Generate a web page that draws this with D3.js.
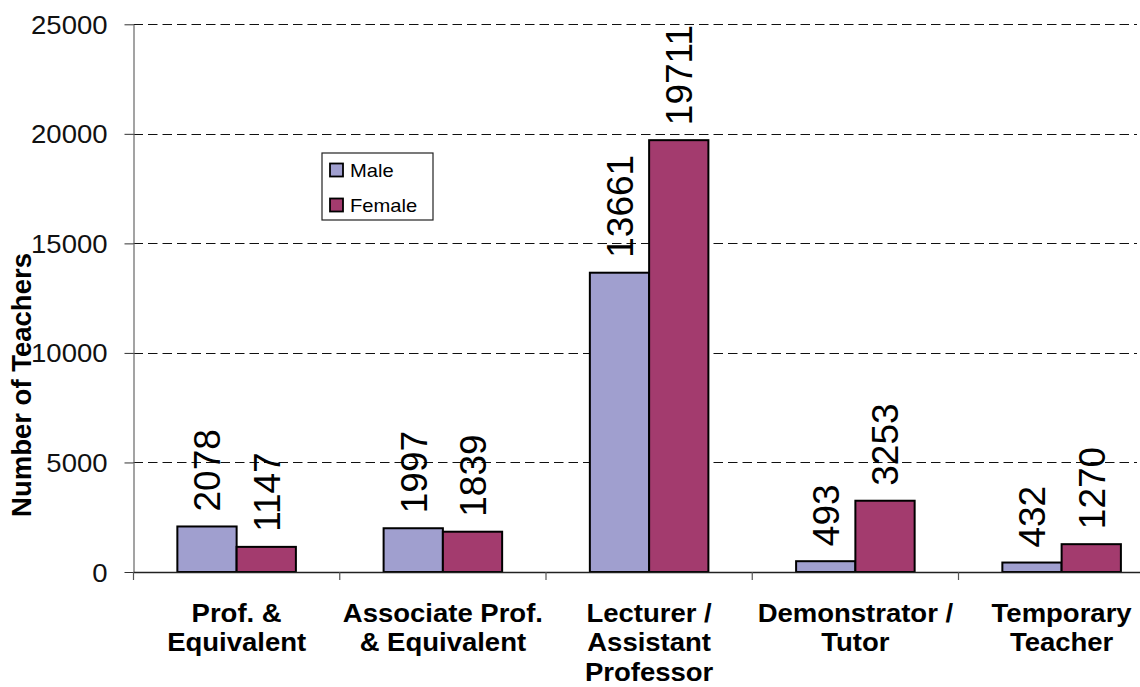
<!DOCTYPE html>
<html>
<head>
<meta charset="utf-8">
<script src="https://cdn.jsdelivr.net/npm/d3@7"></script>
<style>
  html, body { margin: 0; padding: 0; background: #fff; }
  svg { display: block; font-family: "Liberation Sans", Arial, sans-serif; }
</style>
</head>
<body>
<svg id="chart" width="1140" height="687"></svg>
<script>
const categories = ["Prof. &\nEquivalent", "Associate Prof.\n& Equivalent", "Lecturer /\nAssistant\nProfessor", "Demonstrator /\nTutor", "Temporary\nTeacher"];
const seriesNames = ["Male", "Female"];
const maleValues = [2078, 1997, 13661, 493, 432];
const femaleValues = [1147, 1839, 19711, 3253, 1270];
const yTickValues = [0, 5000, 10000, 15000, 20000, 25000];
const yTitle = "Number of Teachers";
const colors = { Male: "#a09fcf", Female: "#a33b6e" };

const svg = d3.select("#chart");
const plotLeft = 133.5, plotBottom = 572, plotTop = 24.3, bandStep = 206.25, gridRight = 1137;
const SX = 1.1;

const x0 = d3.scaleBand().domain(categories).range([plotLeft, plotLeft + bandStep * categories.length]).paddingInner(0).paddingOuter(0);
const x1 = d3.scaleBand().domain(seriesNames).range([0, x0.bandwidth()]).paddingInner(0).paddingOuter(0.74);
const y = d3.scaleLinear().domain([0, 25000]).range([plotBottom, plotTop]);

const data = categories.map((c, i) => ({ cat: c, values: [{ s: "Male", v: maleValues[i] }, { s: "Female", v: femaleValues[i] }] }));

// gridlines
svg.append("g").selectAll("line").data(yTickValues.filter(t => t > 0)).join("line")
  .attr("x1", plotLeft).attr("x2", gridRight)
  .attr("y1", d => Math.round(y(d)) + 0.5).attr("y2", d => Math.round(y(d)) + 0.5)
  .attr("stroke", "#111").attr("stroke-width", 1).attr("stroke-dasharray", "9.5,5");

// y axis
const yAxis = svg.append("g").attr("transform", `translate(${plotLeft},0)`)
  .call(d3.axisLeft(y).tickValues(yTickValues).tickSize(9).tickPadding(17).tickSizeOuter(0).tickFormat(d3.format("d")));
yAxis.select(".domain").attr("stroke", "#666").attr("stroke-width", 1.2);
yAxis.selectAll(".tick line").attr("stroke", "#333");
yAxis.selectAll(".tick text")
  .attr("font-size", 25).attr("fill", "#111").attr("font-family", "'Liberation Sans', Arial, sans-serif")
  .attr("dy", "0.36em")
  .attr("transform", function () { const ax = +d3.select(this).attr("x"); return `translate(${ax},0) scale(${SX},1) translate(${-ax},0)`; });

// bars
const groups = svg.append("g").selectAll("g").data(data).join("g")
  .attr("transform", d => `translate(${x0(d.cat)},0)`);
groups.selectAll("rect").data(d => d.values).join("rect")
  .attr("x", d => x1(d.s)).attr("width", x1.bandwidth())
  .attr("y", d => y(d.v)).attr("height", d => y(0) - y(d.v))
  .attr("fill", d => colors[d.s]).attr("stroke", "#000").attr("stroke-width", 2);

// value labels
groups.selectAll("g.lbl").data(d => d.values).join("g").attr("class", "lbl")
  .attr("transform", d => `translate(${x1(d.s) + x1.bandwidth() / 2},${y(d.v) - 15}) rotate(-90)`)
  .append("text")
  .attr("font-size", 37).attr("fill", "#000").attr("dy", "0.36em").attr("text-anchor", "start")
  .text(d => d.v);

// x axis line and ticks at band boundaries
svg.append("line").attr("x1", plotLeft).attr("x2", 1140).attr("y1", plotBottom + 0.5).attr("y2", plotBottom + 0.5)
  .attr("stroke", "#222").attr("stroke-width", 1.3);
const boundaries = categories.map(c => x0(c));
svg.append("g").selectAll("line").data(boundaries).join("line")
  .attr("x1", d => d).attr("x2", d => d).attr("y1", plotBottom).attr("y2", plotBottom + 8)
  .attr("stroke", "#555").attr("stroke-width", 1.2);

// category labels
const catG = svg.append("g").selectAll("g").data(categories).join("g")
  .attr("transform", d => `translate(${x0(d) + x0.bandwidth() / 2},0) scale(${SX},1)`);
catG.selectAll("text").data(d => d.split("\n")).join("text")
  .attr("x", 0).attr("y", (d, i) => 622 + i * 29.5)
  .attr("text-anchor", "middle").attr("font-size", 25).attr("font-weight", "bold").attr("fill", "#000")
  .text(d => d);

// y title
svg.append("g").attr("transform", `translate(31,385) rotate(-90)`)
  .append("text").attr("text-anchor", "middle").attr("font-size", 27.5).attr("font-weight", "bold").attr("fill", "#000")
  .text(yTitle);

// legend
const lg = svg.append("g").attr("transform", "translate(322,153)");
lg.append("rect").attr("x", 0).attr("y", 0).attr("width", 111).attr("height", 67)
  .attr("fill", "#fff").attr("stroke", "#222").attr("stroke-width", 1.2);
const items = lg.selectAll("g").data(seriesNames).join("g").attr("transform", (d, i) => `translate(0,${i * 35})`);
items.append("rect").attr("x", 8).attr("y", 10.5).attr("width", 13).attr("height", 13)
  .attr("fill", d => colors[d]).attr("stroke", "#000").attr("stroke-width", 1.8);
items.append("g").attr("transform", `translate(28,24) scale(1.12,1)`)
  .append("text").attr("font-size", 18).attr("fill", "#000").text(d => d);
</script>
</body>
</html>
